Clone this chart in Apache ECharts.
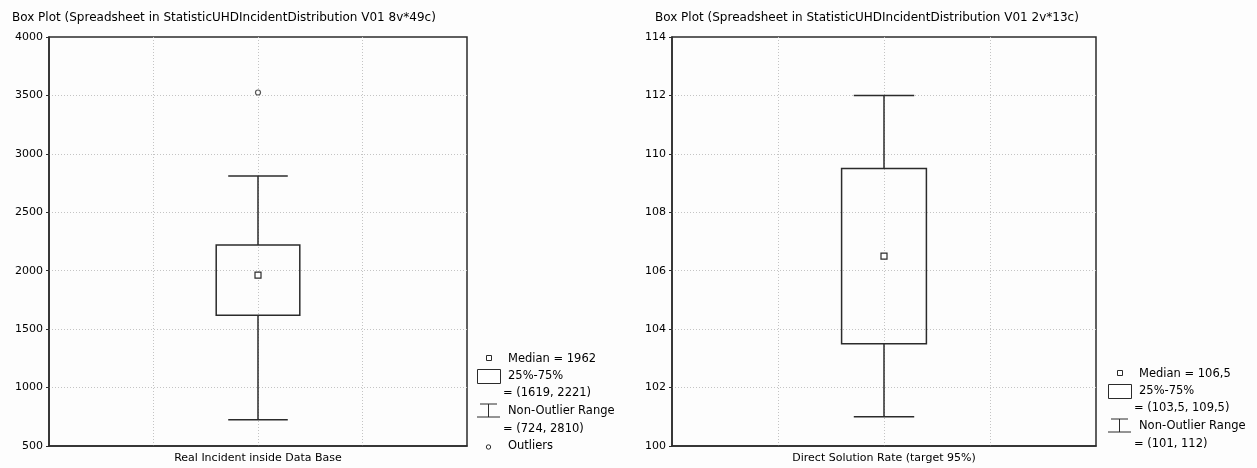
<!DOCTYPE html>
<html>
<head>
<meta charset="utf-8">
<title>Box Plot</title>
<script src="https://cdn.jsdelivr.net/npm/echarts@6/dist/echarts.min.js"></script>
<style>
  html, body { margin: 0; padding: 0; background: #fdfdfd; }
  #chart { width: 1257px; height: 468px; }
</style>
</head>
<body>
<div id="chart"></div>
<script>
// data
const titles = [
  'Box Plot (Spreadsheet in StatisticUHDIncidentDistribution V01 8v*49c)',
  'Box Plot (Spreadsheet in StatisticUHDIncidentDistribution V01 2v*13c)'
]
const variables = ['Real Incident inside Data Base', 'Direct Solution Rate (target 95%)']
// [min, q1, median, q3, max]
const incidentStats = [724, 1619, 1962, 2221, 2810]
const solutionStats = [101, 103.5, 106.5, 109.5, 112]
const incidentOutliers = [3525]
const yRanges = [[500, 4000, 500], [100, 114, 2]]

const ink = '#2b2b2b'
const font = 'DejaVu Sans, Verdana, sans-serif'
const fs = 11

// comma as decimal sign, like the original
const fmt = v => String(v).replace('.', ',')

function renderBox (params, api) {
  const x = api.value(0)
  const lo = api.coord([x, api.value(1)])
  const q1 = api.coord([x, api.value(2)])
  const med = api.coord([x, api.value(3)])
  const q3 = api.coord([x, api.value(4)])
  const hi = api.coord([x, api.value(5)])
  const unit = api.size([1, 0])[0]
  const bw = unit * 0.8
  const cw = unit * 0.57
  const cx = q1[0]
  const line = { stroke: ink, lineWidth: 1.5 }
  return {
    type: 'group',
    children: [
      { type: 'line', shape: { x1: cx, y1: hi[1], x2: cx, y2: q3[1] }, style: line },
      { type: 'line', shape: { x1: cx, y1: q1[1], x2: cx, y2: lo[1] }, style: line },
      { type: 'line', shape: { x1: cx - cw / 2, y1: hi[1], x2: cx + cw / 2, y2: hi[1] }, style: line },
      { type: 'line', shape: { x1: cx - cw / 2, y1: lo[1], x2: cx + cw / 2, y2: lo[1] }, style: line },
      { type: 'rect', shape: { x: cx - bw / 2, y: q3[1], width: bw, height: q1[1] - q3[1] }, style: { fill: 'none', stroke: ink, lineWidth: 1.5 } },
      { type: 'rect', shape: { x: med[0] - 3, y: med[1] - 3, width: 6, height: 6 }, style: { fill: '#fff', stroke: ink, lineWidth: 1.2 } }
    ]
  }
}

function legendItems (x0, y0, stats, hasOutliers) {
  const txt = (x, y, text) => ({
    type: 'text', left: x, top: y + 2,
    style: { text: text, fill: '#000', font: '11.5px ' + font }
  })
  const items = [
    { type: 'rect', left: x0 + 9, top: y0 - 3, shape: { width: 5, height: 5 }, style: { fill: '#fff', stroke: ink, lineWidth: 1 } },
    txt(x0 + 31, y0 - 7, 'Median = ' + fmt(stats[2])),
    { type: 'rect', left: x0, top: y0 + 11, shape: { width: 23, height: 14 }, style: { fill: '#fff', stroke: ink, lineWidth: 1 } },
    txt(x0 + 31, y0 + 10, '25%-75%'),
    txt(x0 + 26, y0 + 27, '= (' + fmt(stats[1]) + ', ' + fmt(stats[3]) + ')'),
    { type: 'polyline', shape: { points: [[x0 + 3, y0 + 46], [x0 + 20, y0 + 46]] }, style: { stroke: ink, lineWidth: 1 } },
    { type: 'polyline', shape: { points: [[x0 + 11.5, y0 + 46], [x0 + 11.5, y0 + 59]] }, style: { stroke: ink, lineWidth: 1 } },
    { type: 'polyline', shape: { points: [[x0, y0 + 59], [x0 + 23, y0 + 59]] }, style: { stroke: ink, lineWidth: 1 } },
    txt(x0 + 31, y0 + 45, 'Non-Outlier Range'),
    txt(x0 + 26, y0 + 63, '= (' + fmt(stats[0]) + ', ' + fmt(stats[4]) + ')')
  ]
  if (hasOutliers) {
    items.push({ type: 'circle', shape: { cx: x0 + 11.5, cy: y0 + 89, r: 2.2 }, style: { fill: '#fff', stroke: ink, lineWidth: 1 } })
    items.push(txt(x0 + 31, y0 + 80, 'Outliers'))
  }
  return items
}

const grids = [
  { left: 49, top: 37, width: 418, height: 409 },
  { left: 672, top: 37, width: 424, height: 409 }
]

const chart = echarts.init(document.getElementById('chart'))

const gridLine = { show: true, showMinLine: false, showMaxLine: false, lineStyle: { color: '#c4c4c4', type: [1, 2], width: 1 } }
const titleStyle = { fontFamily: font, fontSize: 12, fontWeight: 'normal', color: '#000' }

const option = {
  backgroundColor: '#fdfdfd',
  animation: false,
  title: [
    { text: titles[0], left: 12, top: 12, padding: 0, textStyle: titleStyle },
    { text: titles[1], left: 655, top: 12, padding: 0, textStyle: titleStyle }
  ],
  grid: grids.map(g => Object.assign({ show: true, borderColor: ink, borderWidth: 1.5, backgroundColor: 'transparent', outerBoundsMode: 'none', containLabel: false }, g)),
  xAxis: [0, 1].map(i => ({
    type: 'value',
    gridIndex: i,
    min: 0,
    max: 4,
    interval: 1,
    name: variables[i],
    nameLocation: 'middle',
    nameGap: 7,
    nameTextStyle: { fontFamily: font, fontSize: fs, color: '#000', verticalAlign: 'top' },
    axisLine: { show: true, lineStyle: { color: ink, width: 1.5 } },
    axisTick: { show: false },
    axisLabel: { show: false },
    splitLine: gridLine
  })),
  yAxis: [0, 1].map(i => ({
    type: 'value',
    gridIndex: i,
    min: yRanges[i][0],
    max: yRanges[i][1],
    interval: yRanges[i][2],
    axisLine: { show: true, lineStyle: { color: ink, width: 1.5 } },
    axisTick: { show: true, length: 3, lineStyle: { color: ink } },
    axisLabel: { fontFamily: font, fontSize: fs, color: '#000', margin: 6, formatter: v => String(v) },
    splitLine: gridLine
  })),
  series: [
    {
      type: 'custom',
      xAxisIndex: 0,
      yAxisIndex: 0,
      renderItem: renderBox,
      data: [[2].concat(incidentStats)],
      z: 5
    },
    {
      type: 'custom',
      xAxisIndex: 1,
      yAxisIndex: 1,
      renderItem: renderBox,
      data: [[2].concat(solutionStats)],
      z: 5
    },
    {
      type: 'scatter',
      xAxisIndex: 0,
      yAxisIndex: 0,
      symbol: 'circle',
      symbolSize: 5,
      itemStyle: { color: '#fff', borderColor: ink, borderWidth: 1.2 },
      data: incidentOutliers.map(v => [2, v]),
      z: 6
    }
  ],
  graphic: legendItems(477, 358, incidentStats, true).concat(legendItems(1108, 373, solutionStats, false))
}

chart.setOption(option)
</script>
</body>
</html>
